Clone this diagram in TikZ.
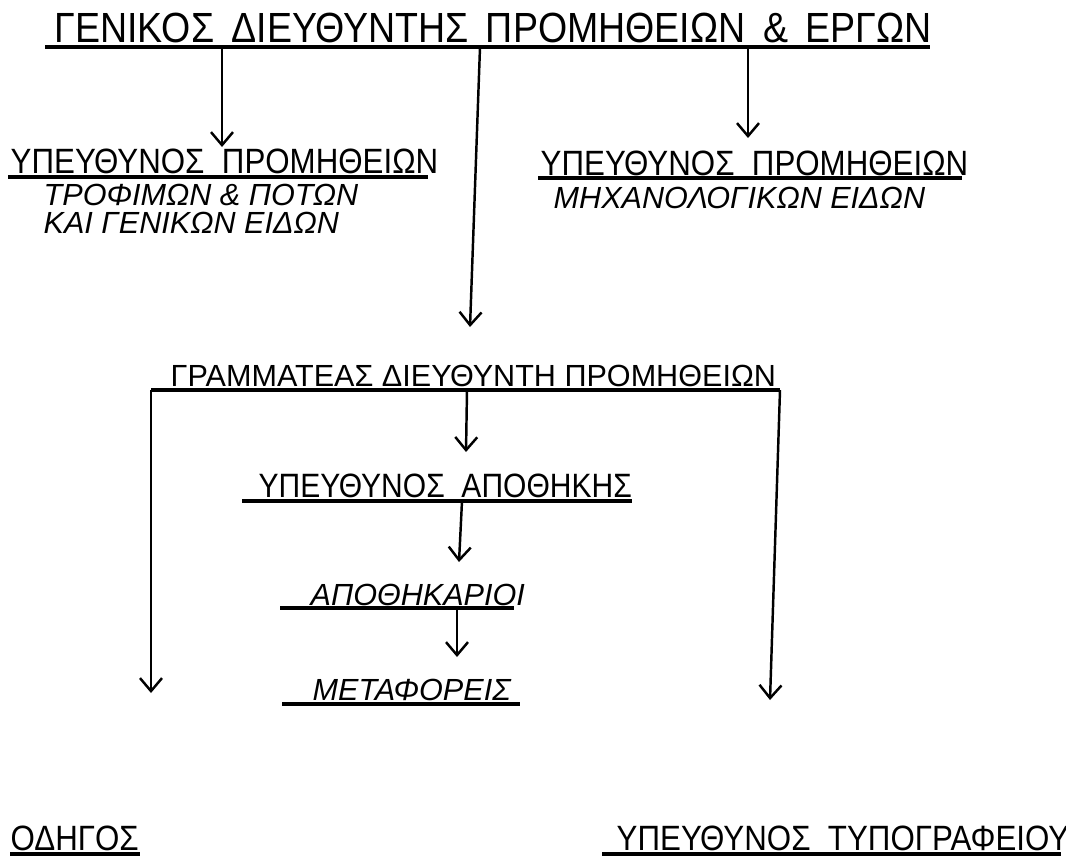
\documentclass[tikz,border=0pt]{standalone}
\usepackage{fontspec}
\setmainfont{Liberation Sans}
\newfontfamily\narrowfont[FakeStretch=0.89]{Liberation Sans}
\usetikzlibrary{arrows.meta}
\tikzset{
    titletext/.style={font=\narrowfont\fontsize{12}{14}\selectfont, inner sep=0pt, anchor=base west},
    headtext/.style={font=\narrowfont\fontsize{10}{12}\selectfont, inner sep=0pt, anchor=base west},
    plaintext/.style={font=\fontsize{8.7}{10}\selectfont, inner sep=0pt, anchor=base west},
    ittext/.style={font=\fontsize{8.7}{10}\selectfont\itshape, inner sep=0pt, anchor=base west},
    uline/.style={line width=1.1pt},
    link/.style={line width=0.7pt, ->}
}

\begin{document}
\begin{tikzpicture}[>={Straight Barb[length=1.3mm,width=2.2mm]}]
        \useasboundingbox (0,0) rectangle (10.66,-8.63);

        % general director
        \node[titletext] (gd) at (0.54,-0.42) {ΓΕΝΙΚΟΣ \,ΔΙΕΥΘΥΝΤΗΣ \,ΠΡΟΜΗΘΕΙΩΝ \,\& \,ΕΡΓΩΝ};
        \coordinate (gdL) at (0.45,-0.47);
        \coordinate (gdR) at (9.30,-0.47);
        \draw[uline] (gdL) -- (gdR);
        \coordinate (gd1) at (2.22,-0.47);
        \coordinate (gd2) at (4.80,-0.47);
        \coordinate (gd3) at (7.48,-0.47);

        % the two purchasing heads
        \node[headtext] (yp1) at (0.10,-1.73) {ΥΠΕΥΘΥΝΟΣ \ ΠΡΟΜΗΘΕΙΩΝ};
        \draw[uline] (0.08,-1.77) -- (4.28,-1.77);
        \node[ittext] (yp1a) at (0.43,-2.05) {ΤΡΟΦΙΜΩΝ \& ΠΟΤΩΝ};
        \node[ittext] (yp1b) at (0.43,-2.33) {ΚΑΙ ΓΕΝΙΚΩΝ ΕΙΔΩΝ};
        \coordinate (yp1t) at (2.22,-1.47);

        \node[headtext] (yp2) at (5.40,-1.75) {ΥΠΕΥΘΥΝΟΣ \ ΠΡΟΜΗΘΕΙΩΝ};
        \draw[uline] (5.38,-1.78) -- (9.62,-1.78);
        \node[ittext] (yp2a) at (5.53,-2.08) {ΜΗΧΑΝΟΛΟΓΙΚΩΝ ΕΙΔΩΝ};
        \coordinate (yp2t) at (7.48,-1.38);

        \draw[link] (gd1) -- (yp1t);
        \draw[link] (gd3) -- (yp2t);

        % secretary
        \node[plaintext] (gr) at (1.70,-3.86) {ΓΡΑΜΜΑΤΕΑΣ ΔΙΕΥΘΥΝΤΗ ΠΡΟΜΗΘΕΙΩΝ};
        \coordinate (grL) at (1.51,-3.90);
        \coordinate (grR) at (7.80,-3.90);
        \draw[uline] (grL) -- (grR);
        \coordinate (grt) at (4.70,-3.27);
        \draw[link] (gd2) -- (grt);
        \coordinate (gr1) at (4.67,-3.90);

        % store chain
        \node[headtext, font=\narrowfont\fontsize{9.6}{12}\selectfont] (ya) at (2.58,-4.97) {ΥΠΕΥΘΥΝΟΣ \ ΑΠΟΘΗΚΗΣ};
        \draw[uline] (2.42,-5.01) -- (6.32,-5.01);
        \coordinate (yat) at (4.66,-4.52);
        \coordinate (ya1) at (4.62,-5.01);
        \draw[link] (gr1) -- (yat);

        \node[ittext] (ak) at (3.10,-6.05) {ΑΠΟΘΗΚΑΡΙΟΙ};
        \draw[uline] (2.80,-6.08) -- (5.14,-6.08);
        \coordinate (akt) at (4.59,-5.62);
        \coordinate (ak1) at (4.57,-6.08);
        \draw[link] (ya1) -- (akt);

        \node[ittext] (mt) at (3.12,-7.00) {ΜΕΤΑΦΟΡΕΙΣ};
        \draw[uline] (2.82,-7.04) -- (5.20,-7.04);
        \coordinate (mtt) at (4.57,-6.57);
        \draw[link] (ak1) -- (mtt);

        % driver and print shop
        \node[headtext] (od) at (0.10,-8.50) {ΟΔΗΓΟΣ};
        \draw[uline] (0.10,-8.54) -- (1.40,-8.54);
        \coordinate (odt) at (1.51,-6.93);
        \draw[link] (grL) -- (odt);

        \node[headtext] (yt) at (6.16,-8.50) {ΥΠΕΥΘΥΝΟΣ \ ΤΥΠΟΓΡΑΦΕΙΟΥ};
        \draw[uline] (6.02,-8.54) -- (10.61,-8.54);
        \coordinate (ytt) at (7.70,-7.00);
        \draw[link] (grR) -- (ytt);
\end{tikzpicture}
\end{document}
